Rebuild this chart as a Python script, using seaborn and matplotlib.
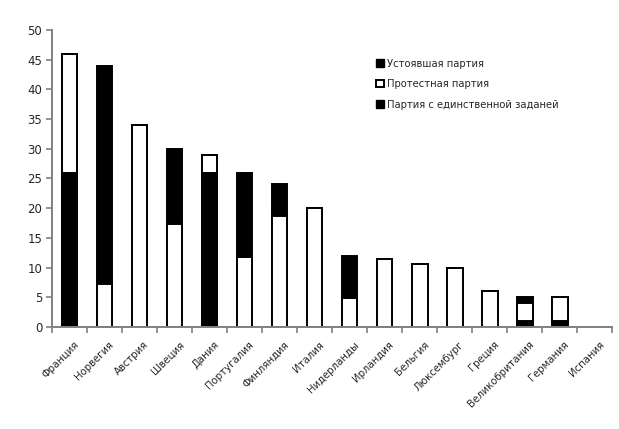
import numpy as np
import pandas as pd
import matplotlib
matplotlib.use('Agg')
import matplotlib.pyplot as plt
import seaborn as sns
from matplotlib.patches import Patch
from matplotlib.ticker import FixedLocator, NullFormatter

countries = ['Франция', 'Норвегия', 'Австрия', 'Швеция', 'Дания', 'Португалия',
             'Финляндия', 'Италия', 'Нидерланды', 'Ирландия', 'Бельгия',
             'Люксембург', 'Греция', 'Великобритания', 'Германия', 'Испания']
established = [26, 0, 0, 0, 26, 0, 0, 0, 0, 0, 0, 0, 0, 1, 1, 0]
protest = [20, 7.2, 34, 17.4, 3, 11.8, 18.7, 20, 4.8, 11.4, 10.6, 10, 6, 3, 4, 0]
single_issue = [0, 36.8, 0, 12.6, 0, 14.2, 5.3, 0, 7.2, 0, 0, 0, 0, 1, 0, 0]
series_names = ['Устоявшая партия', 'Протестная партия',
                'Партия с единственной заданей']

sns.set_style('white')
plt.rcParams['font.family'] = ['DejaVu Sans']

df = pd.DataFrame({'country': countries, 'est': established,
                   'pro': protest, 'single': single_issue})
df['lvl1'] = df['est']
df['lvl2'] = df['est'] + df['pro']
df['lvl3'] = df['lvl2'] + df['single']
for c in ['lvl1', 'lvl2', 'lvl3']:
    df[c] = df[c].where(df[c] > 0)

fig = plt.figure(figsize=(6.19, 4.29), dpi=100)
ax = fig.add_axes([0.084, 0.238, 0.905, 0.692])

# overlay from the full stack down to the bottom layer
layers = [('lvl3', 'black'), ('lvl2', 'white'), ('lvl1', 'black')]
for col, colour in layers:
    sns.barplot(data=df, x='country', y=col, order=countries, color=colour,
                edgecolor='black', linewidth=1.4, width=0.45, saturation=1,
                errorbar=None, ax=ax)

ax.set_xlim(-0.5, len(countries) - 0.5)
ax.set_ylim(0, 50)
ax.set_yticks(np.arange(0, 51, 5))
ax.set_xlabel('')
ax.set_ylabel('')

sns.despine(ax=ax)
for side in ['left', 'bottom']:
    ax.spines[side].set_color('#808080')
    ax.spines[side].set_linewidth(1.4)

ax.xaxis.set_major_locator(FixedLocator(np.arange(-0.5, len(countries), 1)))
ax.xaxis.set_major_formatter(NullFormatter())
ax.xaxis.set_minor_locator(FixedLocator(np.arange(len(countries)) + 0.12))
ax.set_xticklabels(countries, minor=True, rotation=45, ha='right',
                   rotation_mode='anchor', fontsize=7.3)
ax.tick_params(axis='x', which='major', length=4, width=1.2, color='#808080',
               direction='out', bottom=True)
ax.tick_params(axis='x', which='minor', length=0, pad=9)
ax.tick_params(axis='y', length=4, width=1.2, color='#808080', direction='out',
               left=True, labelsize=8.5, pad=3)

handles = [Patch(facecolor='black', edgecolor='black'),
           Patch(facecolor='white', edgecolor='black', linewidth=1.4),
           Patch(facecolor='black', edgecolor='black')]
fig.legend(handles, series_names,
           loc='upper left', bbox_to_anchor=(0.6, 0.875), frameon=False,
           fontsize=7.2, handlelength=0.8, handleheight=0.8,
           handletextpad=0.3, labelspacing=1.05, borderpad=0)

fig.savefig('out.png', dpi=100)
